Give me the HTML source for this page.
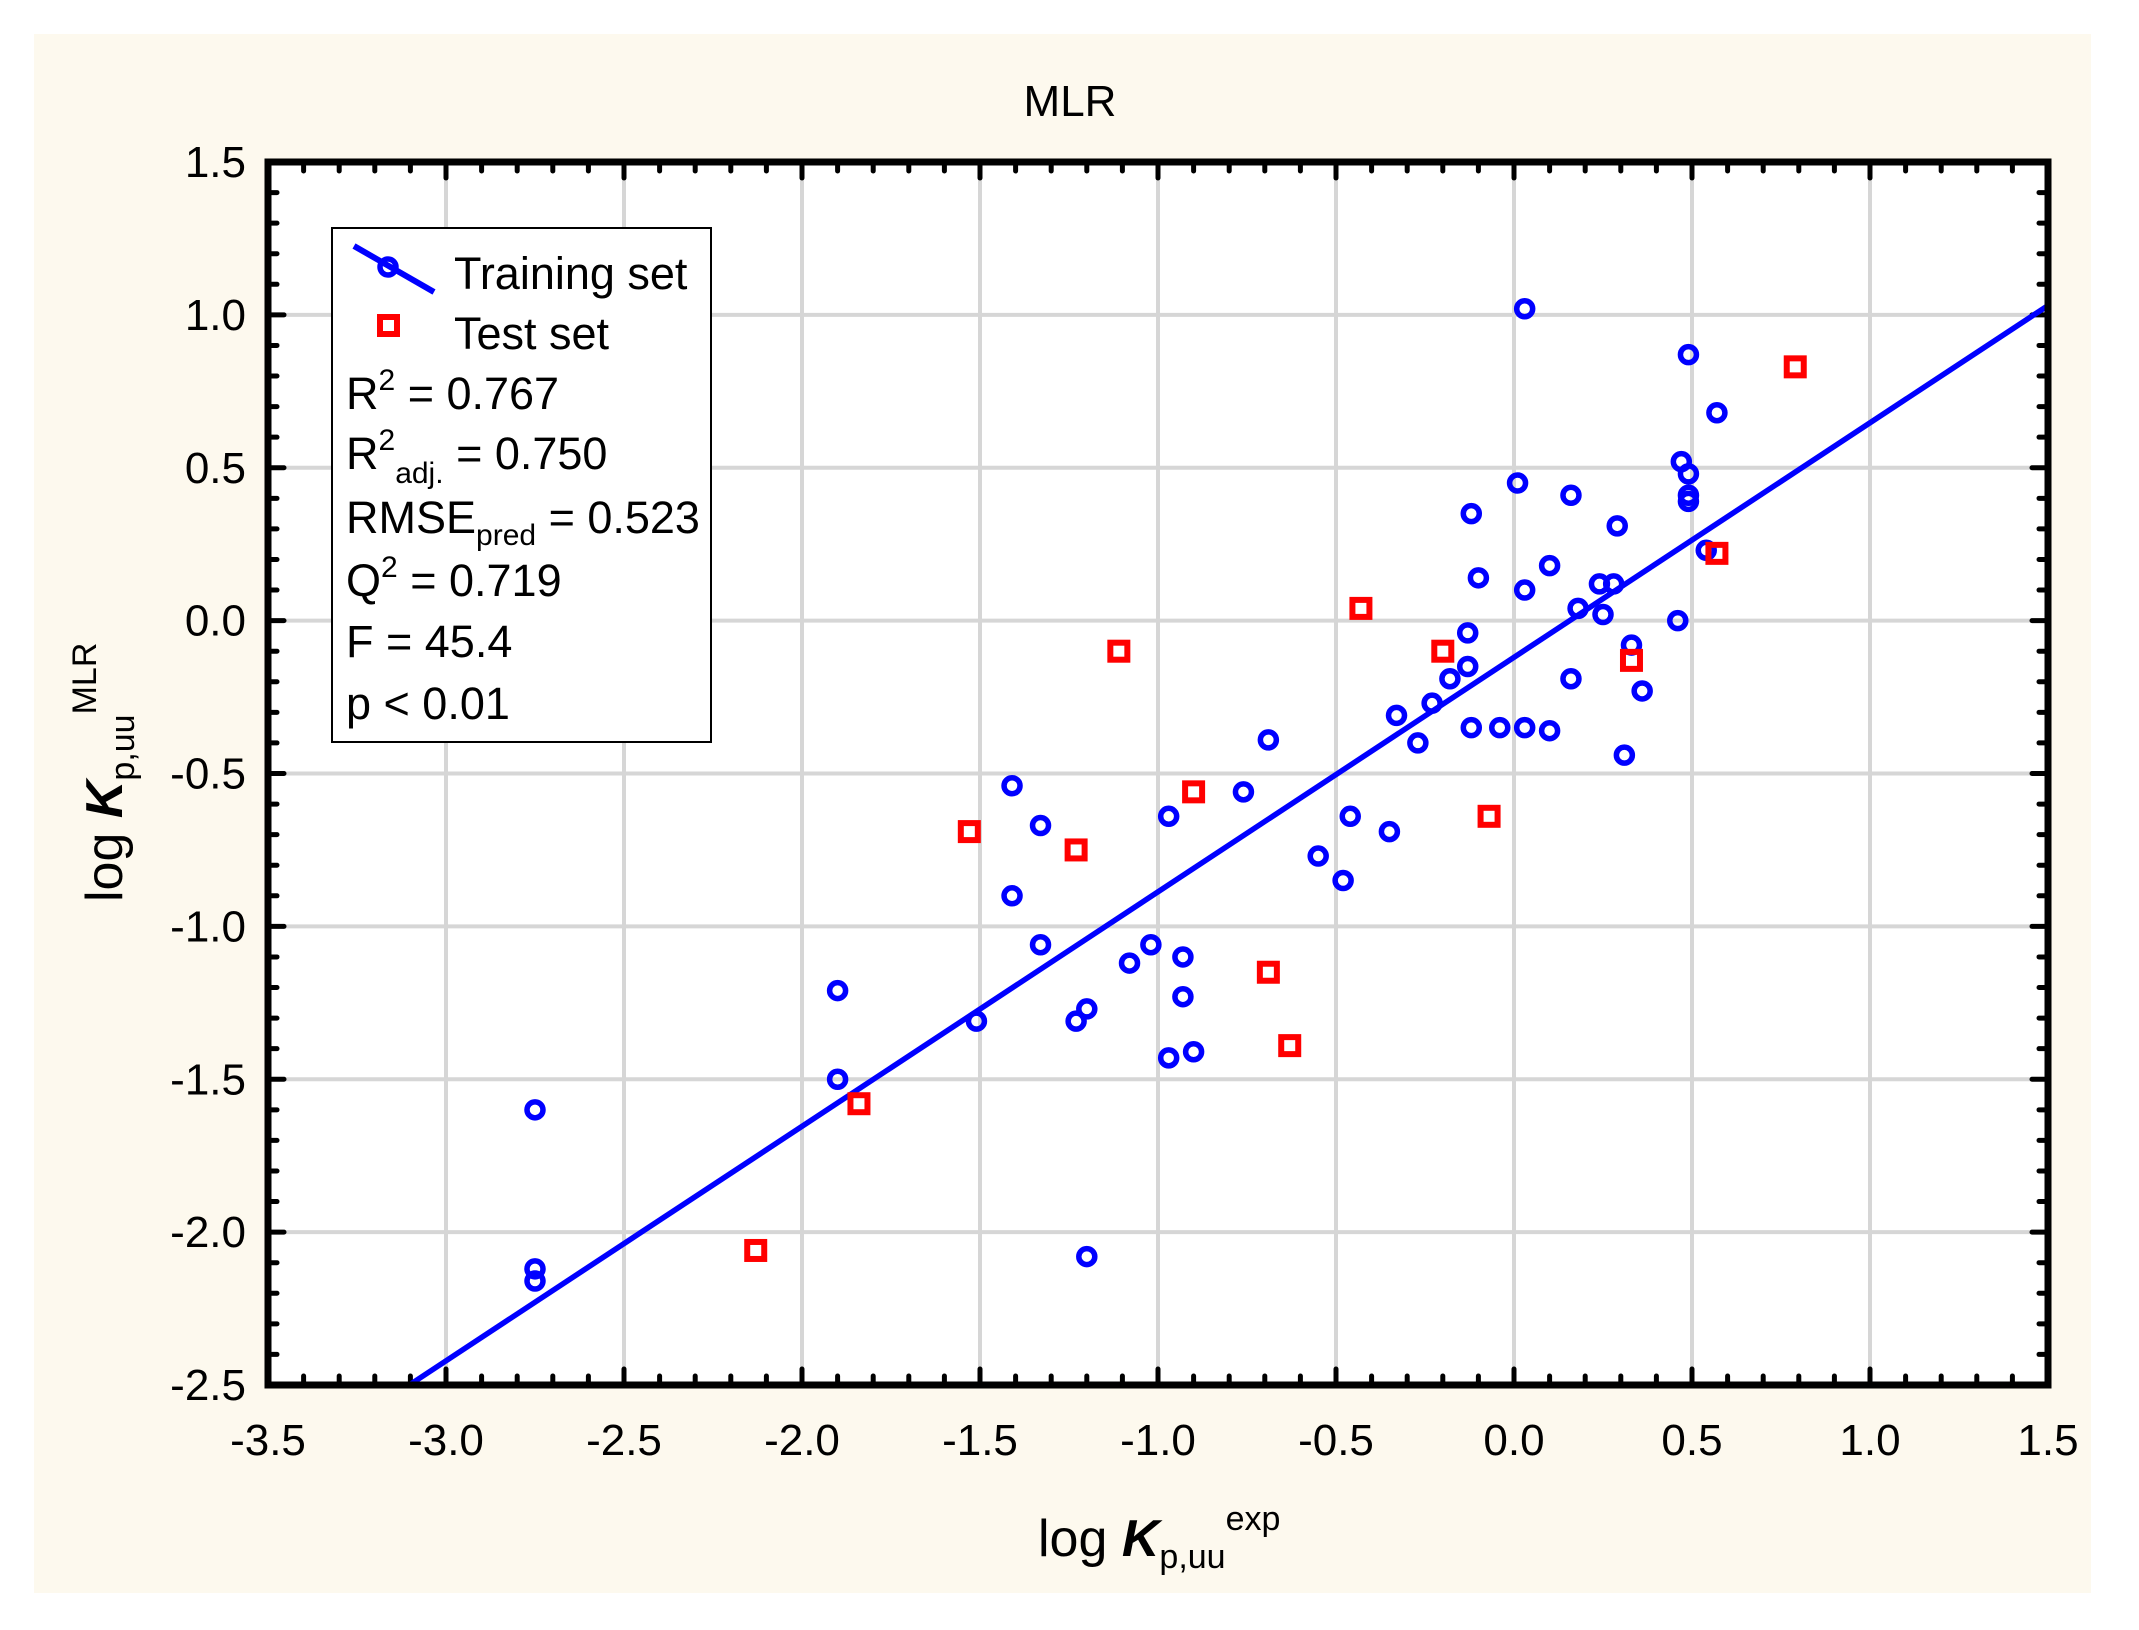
<!DOCTYPE html>
<html><head><meta charset="utf-8"><style>
html,body{margin:0;padding:0;background:#fff;}
svg{display:block;font-family:"Liberation Sans",Arial,sans-serif;}
</style></head><body>
<svg id="chart" width="2139" height="1630" viewBox="0 0 2139 1630">
<rect x="34" y="34" width="2057" height="1559" fill="#fdf9ee"/>
<text x="1070" y="116" font-size="44" text-anchor="middle">MLR</text>
<rect x="268" y="162" width="1780" height="1223" fill="#fff"/>
<g id="grid"></g>
<g id="ticks"></g>
<g id="fit"></g>
<g id="pts"></g>
<rect x="268" y="162" width="1780" height="1223" fill="none" stroke="#000" stroke-width="7"/>
<g id="xlabels"></g>
<g id="ylabels"></g>
<text x="1038" y="1556" font-size="52">log <tspan font-weight="bold" font-style="italic">K</tspan><tspan font-size="34" dy="12">p,uu</tspan><tspan font-size="34" dy="-38">exp</tspan></text>
<text transform="translate(122,902) rotate(-90)" font-size="52">log <tspan font-weight="bold" font-style="italic">K</tspan><tspan font-size="34" dy="12">p,uu</tspan><tspan font-size="34" dy="-38">MLR</tspan></text>
<g>
<rect x="332" y="228" width="379" height="514" fill="#fff" stroke="#000" stroke-width="2"/>
<line x1="354" y1="246" x2="434" y2="292" stroke="#0000ff" stroke-width="6"/>
<circle cx="388" cy="267" r="8" fill="none" stroke="#0000ff" stroke-width="5.5"/>
<text x="454" y="289" font-size="45">Training set</text>
<rect x="380" y="317" width="17" height="17" fill="none" stroke="#ff0000" stroke-width="6"/>
<text x="454" y="349" font-size="45">Test set</text>
<text x="346" y="409" font-size="45">R<tspan font-size="30" dy="-19">2</tspan><tspan dy="19"> = 0.767</tspan></text>
<text x="346" y="469" font-size="45">R<tspan font-size="30" dy="-19">2</tspan><tspan font-size="30" dy="33">adj.</tspan><tspan dy="-14"> = 0.750</tspan></text>
<text x="346" y="533" font-size="45">RMSE<tspan font-size="30" dy="12">pred</tspan><tspan dy="-12"> = 0.523</tspan></text>
<text x="346" y="596" font-size="45">Q<tspan font-size="30" dy="-19">2</tspan><tspan dy="19"> = 0.719</tspan></text>
<text x="346" y="657" font-size="45">F = 45.4</text>
<text x="346" y="719" font-size="45">p &lt; 0.01</text>
</g>
</svg>
<script>
const trainX=[0.03,0.49,0.57,0.47,0.49,0.49,0.49,0.01,0.16,-0.12,0.29,0.10,-0.10,0.03,0.54,0.24,0.28,0.18,0.25,0.46,-0.13,0.33,-0.13,-0.18,0.16,0.36,-0.23,-0.33,-0.12,-0.04,0.03,0.10,-0.27,-0.69,0.31,-1.41,-0.76,-0.97,-0.46,-1.33,-0.35,-0.55,-0.48,-1.41,-1.33,-1.02,-1.08,-0.93,-0.93,-1.90,-1.20,-1.23,-1.51,-0.90,-0.97,-1.90,-2.75,-2.75,-2.75,-1.20];
const trainY=[1.02,0.87,0.68,0.52,0.48,0.41,0.39,0.45,0.41,0.35,0.31,0.18,0.14,0.10,0.23,0.12,0.12,0.04,0.02,0.00,-0.04,-0.08,-0.15,-0.19,-0.19,-0.23,-0.27,-0.31,-0.35,-0.35,-0.35,-0.36,-0.40,-0.39,-0.44,-0.54,-0.56,-0.64,-0.64,-0.67,-0.69,-0.77,-0.85,-0.90,-1.06,-1.06,-1.12,-1.10,-1.23,-1.21,-1.27,-1.31,-1.31,-1.41,-1.43,-1.50,-1.60,-2.12,-2.16,-2.08];
const testX=[0.79,0.57,-0.43,-0.20,-1.11,0.33,-0.90,-1.53,-1.23,-0.07,-0.69,-0.63,-1.84,-2.13];
const testY=[0.83,0.22,0.04,-0.10,-0.10,-0.13,-0.56,-0.69,-0.75,-0.64,-1.15,-1.39,-1.58,-2.06];
const xTicks=["-3.5","-3.0","-2.5","-2.0","-1.5","-1.0","-0.5","0.0","0.5","1.0","1.5"];
const yTicks=["1.5","1.0","0.5","0.0","-0.5","-1.0","-1.5","-2.0","-2.5"];
const fitSlope=[0.767];
const fitIntercept=[-0.12];
const L=268,R=2048,T=162,B=1385,xmin=-3.5,xmax=1.5,ymin=-2.5,ymax=1.5;
const sx=v=>L+(v-xmin)/(xmax-xmin)*(R-L);
const sy=v=>B-(v-ymin)/(ymax-ymin)*(B-T);
const NS="http://www.w3.org/2000/svg";
function mk(tag,parent,attrs){const e=document.createElementNS(NS,tag);for(const k in attrs)e.setAttribute(k,attrs[k]);parent.appendChild(e);return e;}
const grid=document.getElementById('grid'),ticks=document.getElementById('ticks');
xTicks.forEach(t=>{const v=parseFloat(t);const x=sx(v);
 if(v>xmin&&v<xmax){const g=mk('line',grid,{x1:x,x2:x,y1:T,y2:B,stroke:'#d6d6d6','stroke-width':4});
 
 }
 const l=mk('text',document.getElementById('xlabels'),{x:x,y:1455,'font-size':44,'text-anchor':'middle'});l.textContent=t;
 
 
});
yTicks.forEach(t=>{const v=parseFloat(t);const y=sy(v);
 if(v>ymin&&v<ymax){const g=mk('line',grid,{x1:L,x2:R,y1:y,y2:y,stroke:'#d6d6d6','stroke-width':4});
 
 }
 const l=mk('text',document.getElementById('ylabels'),{x:246,y:y+15,'font-size':44,'text-anchor':'end'});l.textContent=t;
 
 
});
for(let i=0;i<=50;i++){const v=xmin+i*0.1;const x=sx(v);const len=(i%5===0)?16:9;
 mk('line',ticks,{x1:x,x2:x,y1:B,y2:B-len,stroke:'#000','stroke-width':5,'stroke-linecap':'round'});
 mk('line',ticks,{x1:x,x2:x,y1:T,y2:T+len,stroke:'#000','stroke-width':5,'stroke-linecap':'round'});}
for(let i=0;i<=40;i++){const v=ymin+i*0.1;const y=sy(v);const len=(i%5===0)?16:9;
 mk('line',ticks,{x1:L,x2:L+len,y1:y,y2:y,stroke:'#000','stroke-width':5,'stroke-linecap':'round'});
 mk('line',ticks,{x1:R,x2:R-len,y1:y,y2:y,stroke:'#000','stroke-width':5,'stroke-linecap':'round'});}
const x0=(ymin-fitIntercept[0])/fitSlope[0];
const fl=mk('line',document.getElementById('fit'),{x1:sx(x0),y1:sy(ymin),x2:sx(xmax),y2:sy(fitSlope[0]*xmax+fitIntercept[0]),stroke:'#0000ff','stroke-width':5.5});


const pts=document.getElementById('pts');
trainX.forEach((v,i)=>{const c=mk('circle',pts,{cx:sx(v),cy:sy(trainY[i]),r:8,fill:'none',stroke:'#0000ff','stroke-width':5.5});
 
 });
testX.forEach((v,i)=>{const s=mk('rect',pts,{x:sx(v)-8.5,y:sy(testY[i])-8.5,width:17,height:17,fill:'none',stroke:'#ff0000','stroke-width':6});
 
 });
</script>
</body></html>
